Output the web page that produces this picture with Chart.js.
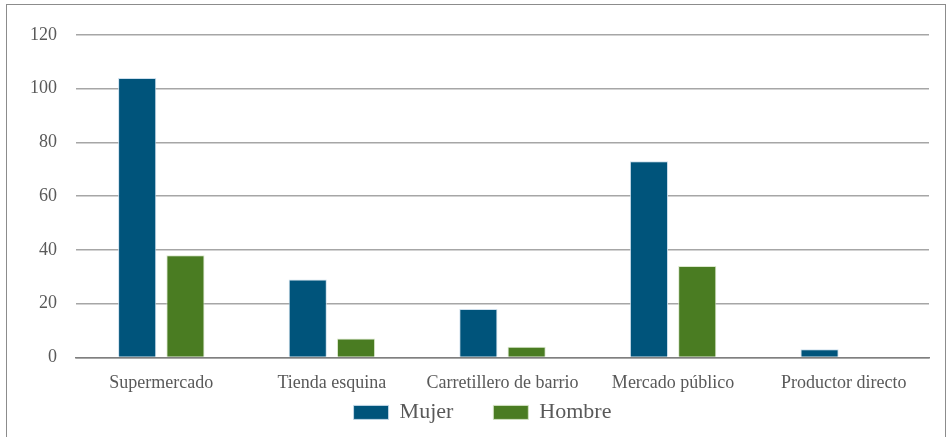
<!DOCTYPE html>
<html>
<head>
<meta charset="utf-8">
<script src="https://cdn.jsdelivr.net/npm/chart.js@4"></script>
<style>
  html, body { margin: 0; padding: 0; background: #fff; }
  #wrap { position: relative; width: 949px; height: 437px; }
  #frame { position: absolute; left: 6px; top: 4px; width: 940px; height: 440px; border: 1px solid #8c8c8c; box-sizing: border-box; }
  canvas { position: absolute; left: 0; top: 0; }
</style>
</head>
<body>
<div id="wrap">
  <div id="frame"></div>
  <canvas id="grafico" width="949" height="437"></canvas>
</div>
<script>
// datos
const categorias = ["Supermercado", "Tienda esquina", "Carretillero de barrio", "Mercado público", "Productor directo"];
const mujer = [104, 29, 18, 73, 3];
const hombre = [38, 7, 4, 34, 0];
const ticksY = [0, 20, 40, 60, 80, 100, 120];

const fuente = "'Liberation Serif', 'DejaVu Serif', serif";
const gris = "#595959";

Chart.defaults.font.family = fuente;
Chart.defaults.color = gris;

// sube la leyenda para que quede justo bajo las etiquetas del eje x
const moverLeyenda = {
    id: 'moverLeyenda',
    afterLayout(chart) {
        const l = chart.legend;
        const pad = l.options.labels.padding;
        l.top = chart.chartArea.bottom + 44 - pad;
        l.bottom = l.top + pad + 34;
        l.left += 18;
        l.right += 18;
    }
};

function initializeBarChart(chartId) {
    var ctx = document.getElementById(chartId).getContext('2d');
    new Chart(ctx, {
        type: 'bar',
        data: {
            labels: categorias,
            datasets: [
                {
                    label: "Mujer",
                    data: mujer,
                    backgroundColor: "#00547b",
                    borderColor: "rgba(200, 220, 235, 0.9)",
                    borderWidth: 1
                },
                {
                    label: "Hombre",
                    data: hombre,
                    backgroundColor: "#4a7c22",
                    borderColor: "rgba(215, 230, 200, 0.9)",
                    borderWidth: 1
                }
            ]
        },
        options: {
            responsive: false,
            animation: false,
            categoryPercentage: 0.566,
            barPercentage: 0.79,
            layout: { padding: { left: 0, right: 20, top: 35, bottom: 3 } },
            plugins: {
                tooltip: { enabled: false },
                legend: {
                    position: 'bottom',
                    maxHeight: 25,
                    labels: {
                        boxWidth: 35,
                        boxHeight: 14,
                        padding: 40,
                        color: gris,
                        font: { family: fuente, size: 22 }
                    }
                }
            },
            scales: {
                x: {
                    grid: { display: false, drawTicks: false },
                    border: { display: true, color: "#7f7f7f", width: 1.5 },
                    ticks: {
                        color: gris,
                        padding: 15,
                        maxRotation: 0,
                        font: { family: fuente, size: 18 }
                    }
                },
                y: {
                    min: 0,
                    max: 120,
                    afterBuildTicks: function (scale) {
                        scale.ticks = ticksY.map(v => ({ value: v }));
                    },
                    afterFit: function (scale) {
                        scale.width = 76;
                    },
                    grid: {
                        drawTicks: false,
                        color: "#a6a6a6",
                        lineWidth: 1.5
                    },
                    border: { display: false },
                    ticks: {
                        color: gris,
                        padding: 19,
                        font: { family: fuente, size: 18 }
                    }
                }
            }
        },
        plugins: [moverLeyenda]
    });
}

initializeBarChart("grafico");
</script>
</body>
</html>
